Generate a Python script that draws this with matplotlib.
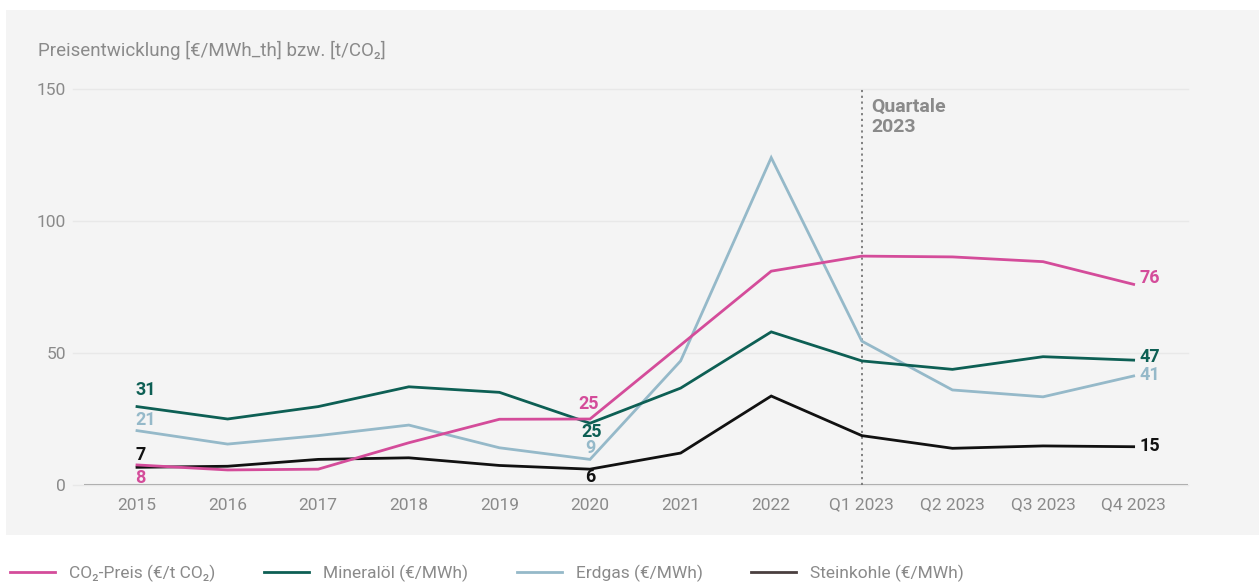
import matplotlib.pyplot as plt
from matplotlib.patches import Rectangle
from matplotlib.lines import Line2D

plt.rcParams['font.family'] = ['Roboto', 'DejaVu Sans']

# data
periods = ['2015', '2016', '2017', '2018', '2019', '2020', '2021', '2022',
           'Q1 2023', 'Q2 2023', 'Q3 2023', 'Q4 2023']
co2 = [7.6, 5.7, 6.0, 16.0, 24.9, 25.0, 53.0, 81.0, 86.7, 86.4, 84.6, 76.0]
oil = [29.7, 25.0, 29.7, 37.2, 35.1, 23.4, 36.7, 58.0, 47.0, 43.8, 48.6, 47.3]
gas = [20.6, 15.5, 18.7, 22.7, 14.1, 9.7, 47.0, 124.0, 54.5, 36.0, 33.4, 41.3]
coal = [6.7, 7.1, 9.7, 10.3, 7.4, 6.0, 12.1, 33.7, 18.7, 13.9, 14.8, 14.5]

names = ['CO₂-Preis (€/t CO₂)', 'Mineralöl (€/MWh)', 'Erdgas (€/MWh)', 'Steinkohle (€/MWh)']
colors = ['#d44c9a', '#0d5f54', '#95b9c9', '#111111']
legend_colors = ['#d44c9a', '#0d5f54', '#95b9c9', '#4a3f3f']

grey = '#8a8a8a'

fig = plt.figure(figsize=(12.59, 5.83), dpi=100)
fig.patches.append(Rectangle((6 / 1259, 1 - 535 / 583), 1 - 6 / 1259, (535 - 10) / 583,
                             transform=fig.transFigure, facecolor='#f4f4f4',
                             edgecolor='none', zorder=-10))

ax = fig.add_axes([84 / 1259, 1 - 485 / 583, (1188 - 84) / 1259, (485 - 89) / 583])
ax.set_facecolor('none')
x = list(range(len(periods)))

for vals, c in zip([coal, gas, oil, co2], [colors[3], colors[2], colors[1], colors[0]]):
    ax.plot(x, vals, color=c, lw=2, solid_joinstyle='miter', zorder=3)

ax.set_xlim(-0.585, 11.6)
ax.set_ylim(0, 150)
ax.set_yticks([0, 50, 100, 150])
ax.set_xticks(x)
ax.set_xticklabels(periods)
for s in ax.spines.values():
    s.set_visible(False)
ax.tick_params(length=0, labelsize=12.5, colors=grey)
ax.tick_params(axis='y', pad=13)
ax.tick_params(axis='x', pad=9)
for yv in [0, 50, 100, 150]:
    ax.axhline(yv, xmin=-0.01, color='#e8e8e8', lw=1, zorder=1, clip_on=False)
ax.axhline(0, color='#b0b0b0', lw=1.5, zorder=2)

ax.axvline(8, color='#777777', lw=1.3, ls=(0, (1.2, 2)), zorder=2)
ax.text(8.1, 146.5, 'Quartale\n2023', color=grey, fontsize=14, fontweight='bold',
        va='top', ha='left', linespacing=1.1)

fig.text(38 / 1259, 1 - 50 / 583, 'Preisentwicklung [€/MWh_th] bzw. [t/CO₂]',
         color=grey, fontsize=13.5, va='center', ha='left')

# value labels
lk = dict(fontsize=13, fontweight='bold', ha='left', va='center')
ax.text(-0.02, 36.0, '31', color=colors[1], **lk)
ax.text(-0.02, 24.6, '21', color=colors[2], **lk)
ax.text(-0.02, 11.4, '7', color=colors[3], **lk)
ax.text(-0.02, 2.7, '8', color=colors[0], **lk)
ck = dict(fontsize=13, fontweight='bold', ha='center', va='center')
ax.text(4.98, 30.7, '25', color=colors[0], **ck)
ax.text(5.02, 20, '25', color=colors[1], **ck)
ax.text(5.0, 14, '9', color=colors[2], **ck)
ax.text(5.0, 3, '6', color=colors[3], **ck)
rk = dict(fontsize=13, fontweight='bold', ha='left', va='center')
ax.text(11.07, co2[-1] + 2.5, '76', color=colors[0], **rk)
ax.text(11.07, oil[-1] + 1.0, '47', color=colors[1], **rk)
ax.text(11.07, gas[-1] + 0.5, '41', color=colors[2], **rk)
ax.text(11.07, coal[-1] + 0.3, '15', color=colors[3], **rk)

handles = [Line2D([], [], color=c, lw=2) for c in legend_colors]
fig.legend(handles, names, loc='center left', bbox_to_anchor=(10 / 1259, 1 - 573 / 583),
           ncol=4, frameon=False, fontsize=12.5, labelcolor=grey, borderpad=0,
           borderaxespad=0, handlelength=2.6, handletextpad=0.8, columnspacing=2.8)

fig.savefig('out.png', dpi=100, facecolor='white')
